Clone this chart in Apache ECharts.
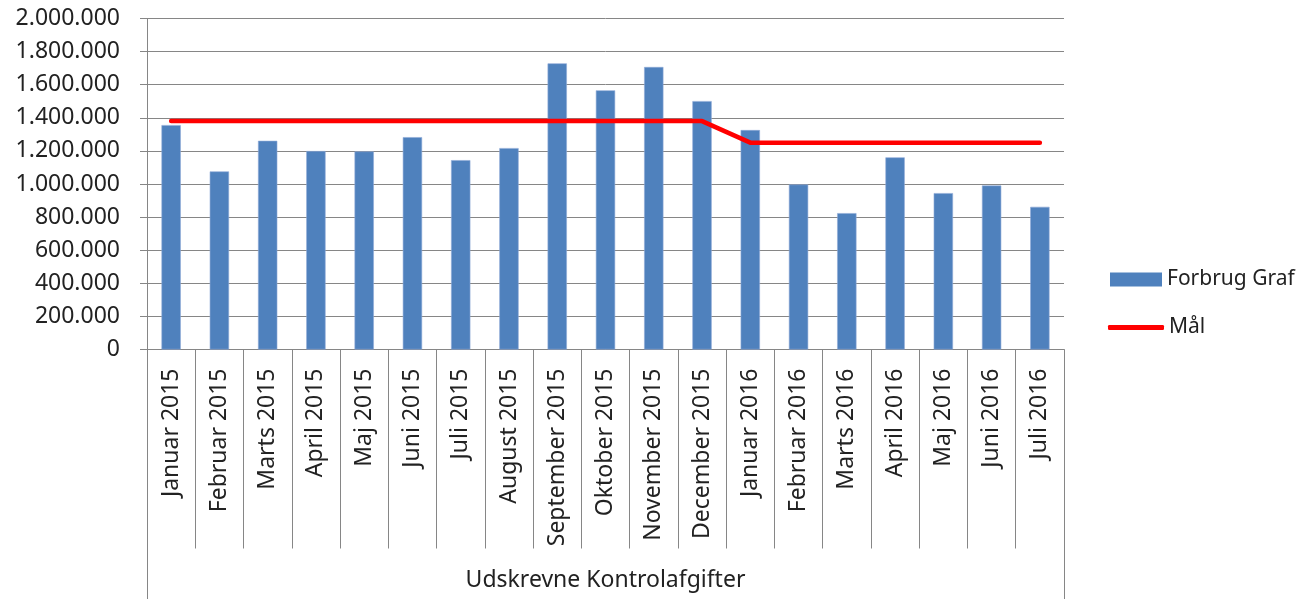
<!DOCTYPE html>
<html>
<head>
<meta charset="utf-8">
<script src="https://cdn.jsdelivr.net/npm/echarts@6/dist/echarts.min.js"></script>
<style>
html,body{margin:0;padding:0;background:#fff;}
#chart{width:1306px;height:599px;}
</style>
</head>
<body>
<div id="chart"></div>
<script>
const categories = ['Januar 2015','Februar 2015','Marts 2015','April 2015','Maj 2015','Juni 2015','Juli 2015','August 2015','September 2015','Oktober 2015','November 2015','December 2015','Januar 2016','Februar 2016','Marts 2016','April 2016','Maj 2016','Juni 2016','Juli 2016'];
const forbrug = [1356000,1076000,1261000,1199000,1197000,1283000,1144000,1217000,1729000,1566000,1707000,1501000,1326000,997000,824000,1161000,945000,991000,862000];
const maal = [1380000,1380000,1380000,1380000,1380000,1380000,1380000,1380000,1380000,1380000,1380000,1380000,1250000,1250000,1250000,1250000,1250000,1250000,1250000];
const groupLabel = ['Udskrevne Kontrolafgifter'];
const yMin = 0, yMax = 2000000, yStep = 200000;

const FONT = 'Noto Sans';
const TXT = '#222222';
const GRAY = '#868686';

function fmt(v){
  return String(v).replace(/\B(?=(\d{3})+(?!\d))/g, '.');
}

const chart = echarts.init(document.getElementById('chart'), null, {renderer:'canvas'});
chart.setOption({
  animation:false,
  backgroundColor:'#ffffff',
  textStyle:{fontFamily:FONT},
  grid:{left:147, top:18.5, width:917, height:331, containLabel:false},
  legend:[
    {
      data:[{name:'Forbrug Graf', icon:'rect', itemStyle:{color:'#4F81BD', borderWidth:0}}],
      left:1105, top:264, orient:'vertical',
      itemWidth:52, itemHeight:14, itemGap:5,
      textStyle:{fontFamily:FONT, fontSize:21, color:TXT}
    },
    {
      data:[{name:'Mål', icon:'roundRect', itemStyle:{color:'#FF0000', borderWidth:0}}],
      left:1103, top:312, orient:'vertical',
      itemWidth:56, itemHeight:5, itemGap:3,
      textStyle:{fontFamily:FONT, fontSize:21, color:TXT}
    }
  ],
  xAxis:[
    {
      type:'category',
      data:categories,
      boundaryGap:true,
      position:'bottom',
      axisLine:{show:true, lineStyle:{color:GRAY, width:1}},
      axisTick:{show:true, interval:0, length:199, lineStyle:{color:GRAY, width:1}},
      axisLabel:{interval:0, rotate:90, margin:19, fontFamily:FONT, fontSize:23, color:TXT},
      splitLine:{show:false}
    },
    {
      type:'category',
      data:groupLabel,
      boundaryGap:true,
      position:'bottom',
      axisLine:{show:false},
      axisTick:{show:true, length:251, lineStyle:{color:GRAY, width:1}},
      axisLabel:{interval:0, margin:219, fontFamily:FONT, fontSize:23, color:TXT},
      splitLine:{show:false}
    }
  ],
  yAxis:{
    type:'value',
    min:yMin, max:yMax, interval:yStep,
    axisLine:{show:true, lineStyle:{color:GRAY, width:1}},
    axisTick:{show:true, length:7, lineStyle:{color:GRAY, width:1}},
    axisLabel:{margin:27, fontFamily:FONT, fontSize:23, color:TXT, formatter:fmt},
    splitLine:{show:true, lineStyle:{color:GRAY, width:1}}
  },
  series:[
    {
      name:'Forbrug Graf',
      type:'bar',
      xAxisIndex:0,
      data:forbrug,
      barWidth:'40%',
      itemStyle:{color:'#4F81BD', borderColor:'#8eaad6', borderWidth:0.6}
    },
    {
      name:'Mål',
      type:'line',
      xAxisIndex:0,
      data:maal,
      symbol:'none',
      showSymbol:false,
      lineStyle:{color:'#FF0000', width:4.5, cap:'round', join:'round'},
      itemStyle:{color:'#FF0000'}
    }
  ]
});
</script>
</body>
</html>
